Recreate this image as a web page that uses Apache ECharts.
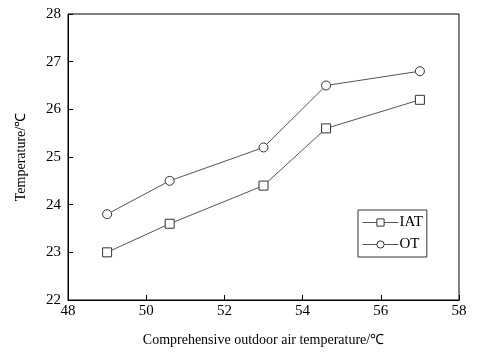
<!DOCTYPE html>
<html lang="en">
<head>
    <meta charset="UTF-8">
    <script src="https://cdn.jsdelivr.net/npm/echarts@6/dist/echarts.min.js"></script>
    <title>Temperature</title>
</head>
<body style="margin:0">
<div id="chart" style="width: 480px;height: 356px"></div>
<script type="text/javascript">
    // 读图得到的数据
    var outdoorTemp = [49, 50.6, 53, 54.6, 57];
    var iatValues = [23.0, 23.6, 24.4, 25.6, 26.2];
    var otValues = [23.8, 24.5, 25.2, 26.5, 26.8];

    function pairs(xs, ys) {
        return xs.map(function (x, i) { return [x, ys[i]]; });
    }

    var font = 'Liberation Serif, Times New Roman, serif';
    var chart = echarts.init(document.getElementById('chart'));
    chart.setOption({
        animation: false,
        backgroundColor: '#fff',
        textStyle: {fontFamily: font},
        grid: {
            left: 68, right: 21, top: 14, bottom: 56,
            show: true, borderColor: '#000', borderWidth: 1
        },
        legend: {
            orient: 'vertical',
            left: 358, top: 210,
            itemWidth: 36, itemHeight: 9, itemGap: 7,
            padding: [5, 4, 5, 4],
            borderColor: '#333', borderWidth: 1,
            itemStyle: {color: '#fff', borderColor: '#333', borderWidth: 1},
            lineStyle: {color: '#555', width: 1},
            textStyle: {fontFamily: font, fontSize: 15, color: '#000', padding: [0, 0, 0, -4]},
            data: ['IAT', 'OT']
        },
        xAxis: {
            type: 'value', min: 48, max: 58, interval: 2,
            name: 'Comprehensive outdoor air temperature/℃',
            nameLocation: 'middle', nameGap: 33,
            nameTextStyle: {fontFamily: font, fontSize: 14, color: '#000'},
            axisLine: {lineStyle: {color: '#000', width: 1}},
            axisTick: {inside: true, length: 5, lineStyle: {color: '#000'}},
            axisLabel: {fontFamily: font, fontSize: 15, color: '#000', margin: 4},
            splitLine: {show: false}
        },
        yAxis: {
            type: 'value', min: 22, max: 28, interval: 1,
            name: 'Temperature/℃',
            nameLocation: 'middle', nameGap: 40,
            nameTextStyle: {fontFamily: font, fontSize: 14, color: '#000'},
            axisLine: {show: true, lineStyle: {color: '#000', width: 1}},
            axisTick: {show: true, inside: true, length: 5, lineStyle: {color: '#000'}},
            axisLabel: {fontFamily: font, fontSize: 15, color: '#000', margin: 7},
            splitLine: {show: false}
        },
        series: [
            {
                name: 'IAT', type: 'line',
                data: pairs(outdoorTemp, iatValues),
                symbol: 'rect', symbolSize: 9,
                lineStyle: {color: '#555', width: 1},
                itemStyle: {color: '#fff', borderColor: '#333', borderWidth: 1}
            },
            {
                name: 'OT', type: 'line',
                data: pairs(outdoorTemp, otValues),
                symbol: 'circle', symbolSize: 9,
                lineStyle: {color: '#555', width: 1},
                itemStyle: {color: '#fff', borderColor: '#333', borderWidth: 1}
            }
        ]
    });
</script>
</body>
</html>
